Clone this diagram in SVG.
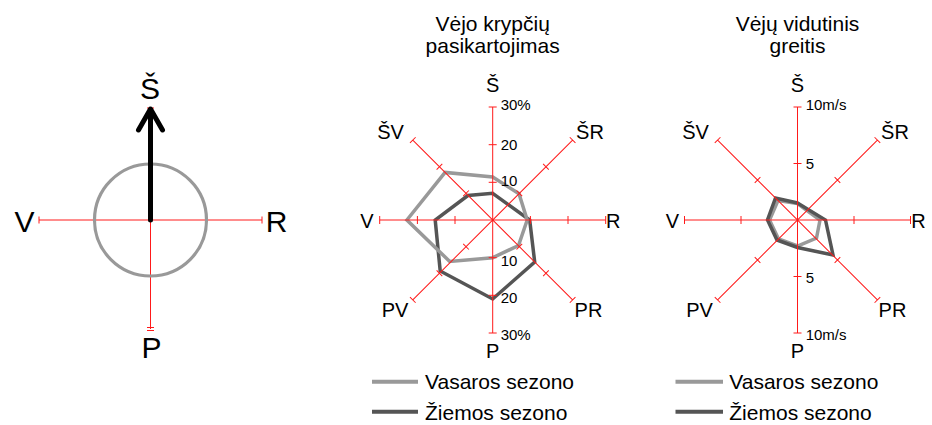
<svg xmlns="http://www.w3.org/2000/svg" xmlns:xlink="http://www.w3.org/1999/xlink" width="932" height="425" viewBox="0 0 932 425">
<style>
text{font-family:"Liberation Sans",Arial,sans-serif;fill:#000}
.ax{stroke:#ff1a1a;stroke-width:1;fill:none}
.sum{fill:none;stroke:#999;stroke-width:3.5;stroke-linejoin:miter}
.win{fill:none;stroke:#555;stroke-width:3.5;stroke-linejoin:miter}
.dir{font-size:20px;text-anchor:middle}
.big{font-size:30px;text-anchor:middle}
.tk{font-size:15px}
.ttl{font-size:21px;text-anchor:middle}
.leg{font-size:21px}
</style>
<defs>
<path id="axM" d="M-113,0H113M-113,-4V4M-75.3,-4V4M-37.7,-4V4M37.7,-4V4M75.3,-4V4M113,-4V4"/>
<path id="axR" d="M-113,0H113M-113,-4V4M-56.5,-4V4M56.5,-4V4M113,-4V4"/>
</defs>
<rect width="932" height="425" fill="#fff"/>

<g id="compass">
<path class="ax" d="M39,220H262M39,216.5V223.5M262,216.5V223.5M150.5,108V329M147,108H154M147,327.5H154M147,330.5H154" stroke-width="1.3"/>
<circle cx="150.5" cy="220" r="56" fill="none" stroke="#999" stroke-width="3.2"/>
<path d="M150.5,220V110M138.5,130L150.5,109L162.5,130" fill="none" stroke="#000" stroke-width="5" stroke-linecap="round" stroke-linejoin="round"/>
<text class="big" x="150" y="99">Š</text>
<text class="big" x="24.5" y="231.5">V</text>
<text class="big" x="276.5" y="231.5">R</text>
<text class="big" x="151.5" y="358">P</text>
</g>

<g id="chart-frequency">
<text class="ttl" x="492.7" y="30.7">Vėjo krypčių</text>
<text class="ttl" x="492.7" y="53.3">pasikartojimas</text>
<g transform="translate(492.7,220)">
<polygon class="win" points="0,-26.7 37,0 42,42 0,79 -52.5,51 -57.5,0 -24.8,-24.5"/>
<polygon class="sum" points="0,-43 26.3,-26.3 34.5,0 25.8,25.5 0,37.7 -43,41.5 -85.8,0 -47.6,-47.6"/>
<g class="ax">
<use xlink:href="#axM" href="#axM"/>
<use xlink:href="#axM" href="#axM" transform="rotate(90)"/>
<use xlink:href="#axM" href="#axM" transform="rotate(45)"/>
<use xlink:href="#axM" href="#axM" transform="rotate(-45)"/>
</g>
</g>
<text class="tk" x="500.7" y="110">30%</text>
<text class="tk" x="500.7" y="149.5">20</text>
<text class="tk" x="500.7" y="186">10</text>
<text class="tk" x="500.7" y="265.5">10</text>
<text class="tk" x="500.7" y="303.3">20</text>
<text class="tk" x="500.7" y="340">30%</text>
<text class="dir" x="492.7" y="91.7">Š</text>
<text class="dir" x="590" y="139">ŠR</text>
<text class="dir" x="613.3" y="227.5">R</text>
<text class="dir" x="588.5" y="316.5">PR</text>
<text class="dir" x="492.7" y="358.3">P</text>
<text class="dir" x="395" y="316.5">PV</text>
<text class="dir" x="367" y="227.5">V</text>
<text class="dir" x="390.5" y="139">ŠV</text>
</g>

<g id="chart-speed">
<text class="ttl" x="797.5" y="30.7">Vėjų vidutinis</text>
<text class="ttl" x="797.5" y="53.3">greitis</text>
<g transform="translate(797.5,220)">
<polygon class="sum" points="0,-16.5 22.5,0 19,18 0,26 -19,19 -28,0 -19.5,-19.5"/>
<polygon class="win" points="0,-17 28,0 35.5,35 0,27.5 -20.5,20 -30,0 -22,-22"/>
<g class="ax">
<use xlink:href="#axR" href="#axR"/>
<use xlink:href="#axR" href="#axR" transform="rotate(90)"/>
<use xlink:href="#axR" href="#axR" transform="rotate(45)"/>
<use xlink:href="#axR" href="#axR" transform="rotate(-45)"/>
</g>
</g>
<text class="tk" x="805.7" y="110">10m/s</text>
<text class="tk" x="805.7" y="168.5">5</text>
<text class="tk" x="805.7" y="282.5">5</text>
<text class="tk" x="805.7" y="340">10m/s</text>
<text class="dir" x="797.5" y="91.7">Š</text>
<text class="dir" x="895" y="139">ŠR</text>
<text class="dir" x="918.5" y="227.5">R</text>
<text class="dir" x="892.5" y="316.5">PR</text>
<text class="dir" x="797.5" y="358.3">P</text>
<text class="dir" x="699.5" y="316.5">PV</text>
<text class="dir" x="672.5" y="227.5">V</text>
<text class="dir" x="695.5" y="139">ŠV</text>
</g>

<g id="legend-frequency">
<line x1="372" y1="381.7" x2="418" y2="381.7" stroke="#999" stroke-width="4"/>
<text class="leg" x="425" y="389.3">Vasaros sezono</text>
<line x1="372" y1="411.7" x2="418" y2="411.7" stroke="#555" stroke-width="4"/>
<text class="leg" x="425" y="420">Žiemos sezono</text>
</g>
<g id="legend-speed">
<line x1="675.5" y1="381.7" x2="723" y2="381.7" stroke="#999" stroke-width="4"/>
<text class="leg" x="729.3" y="389.3">Vasaros sezono</text>
<line x1="675.5" y1="411.7" x2="723" y2="411.7" stroke="#555" stroke-width="4"/>
<text class="leg" x="729.3" y="420">Žiemos sezono</text>
</g>
</svg>
